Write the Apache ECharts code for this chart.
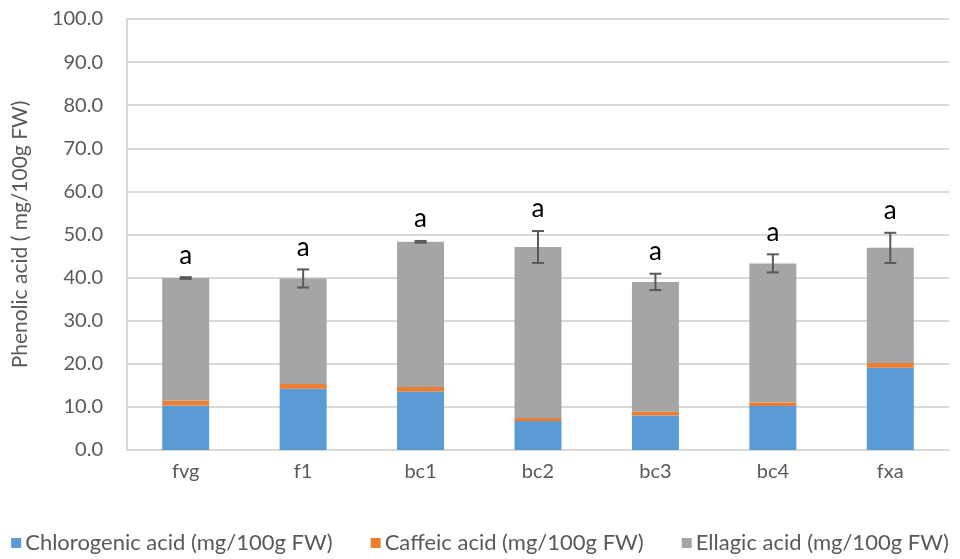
<!DOCTYPE html>
<html><head><meta charset="utf-8">
<script src="https://cdn.jsdelivr.net/npm/echarts@6/dist/echarts.min.js"></script>
<style>html,body{margin:0;padding:0;background:#fff}#c{width:960px;height:559px}</style>
</head><body><div id="c"></div>
<script>
var categories = ['fvg','f1','bc1','bc2','bc3','bc4','fxa'];
var chlorogenic = [10.3, 14.2, 13.6, 6.7, 8.0, 10.2, 19.1];
var caffeic = [1.2, 1.1, 1.0, 0.7, 0.9, 0.8, 1.1];
var ellagic = [28.4, 24.5, 33.7, 39.7, 30.1, 32.3, 26.7];
var errors = [0.2, 2.1, 0.2, 3.7, 1.9, 2.1, 3.5];
var letters = ['a','a','a','a','a','a','a'];
var yTicks = {min: 0, max: 100, interval: 10};

var totals = categories.map(function(_, i){ return chlorogenic[i] + caffeic[i] + ellagic[i]; });
var errData = categories.map(function(_, i){ return [i, totals[i], errors[i], letters[i]]; });
var FONT = 'Lato';
var chart = echarts.init(document.getElementById('c'));
chart.setOption({
  animation: false,
  textStyle: {fontFamily: FONT},
  grid: {left: 127, right: 11, top: 19, bottom: 109, containLabel: false},
  legend: {
    bottom: 0, left: 'center', itemWidth: 10, itemHeight: 10, itemGap: 38,
    icon: 'rect',
    textStyle: {fontFamily: FONT, fontSize: 22, color: '#595959', padding: [0,0,0,-1]},
    data: ['Chlorogenic acid (mg/100g FW)','Caffeic acid (mg/100g FW)','Ellagic acid (mg/100g FW)']
  },
  xAxis: {
    type: 'category', data: categories,
    axisLine: {lineStyle: {color: '#D9D9D9', width: 2}},
    axisTick: {show: false},
    axisLabel: {color: '#595959', fontSize: 20, margin: 12}
  },
  yAxis: {
    type: 'value', min: yTicks.min, max: yTicks.max, interval: yTicks.interval,
    name: 'Phenolic acid ( mg/100g FW)', nameLocation: 'middle', nameGap: 96,
    nameTextStyle: {color: '#595959', fontSize: 21},
    axisLine: {show: true, lineStyle: {color: '#D9D9D9', width: 2}},
    axisTick: {show: false},
    splitLine: {lineStyle: {color: '#D9D9D9', width: 2}},
    axisLabel: {color: '#595959', fontSize: 20, margin: 24, formatter: function(v){ return v.toFixed(1); }}
  },
  series: [
    {name: 'Chlorogenic acid (mg/100g FW)', type: 'bar', stack: 's', barWidth: '40%', data: chlorogenic, itemStyle: {color: '#5B9BD5'}},
    {name: 'Caffeic acid (mg/100g FW)', type: 'bar', stack: 's', data: caffeic, itemStyle: {color: '#ED7D31'}},
    {name: 'Ellagic acid (mg/100g FW)', type: 'bar', stack: 's', data: ellagic, itemStyle: {color: '#A5A5A5'}},
    {
      type: 'custom', data: errData, z: 10,
      renderItem: function(params, api){
        var x = api.value(0), t = api.value(1), e = api.value(2);
        var hi = api.coord([x, t + e]), lo = api.coord([x, t - e]);
        var cw = 6;
        var st = {stroke: '#595959', lineWidth: 2};
        return {type: 'group', children: [
          {type: 'line', shape: {x1: hi[0], y1: hi[1], x2: lo[0], y2: lo[1]}, style: st},
          {type: 'line', shape: {x1: hi[0]-cw, y1: hi[1], x2: hi[0]+cw, y2: hi[1]}, style: st},
          {type: 'line', shape: {x1: lo[0]-cw, y1: lo[1], x2: lo[0]+cw, y2: lo[1]}, style: st},
          {type: 'text', style: {text: letters[params.dataIndex], x: hi[0], y: hi[1] - 9, textAlign: 'center', textVerticalAlign: 'bottom', fontSize: 26, fontFamily: FONT, fill: '#000'}}
        ]};
      }
    }
  ]
});
</script></body></html>
